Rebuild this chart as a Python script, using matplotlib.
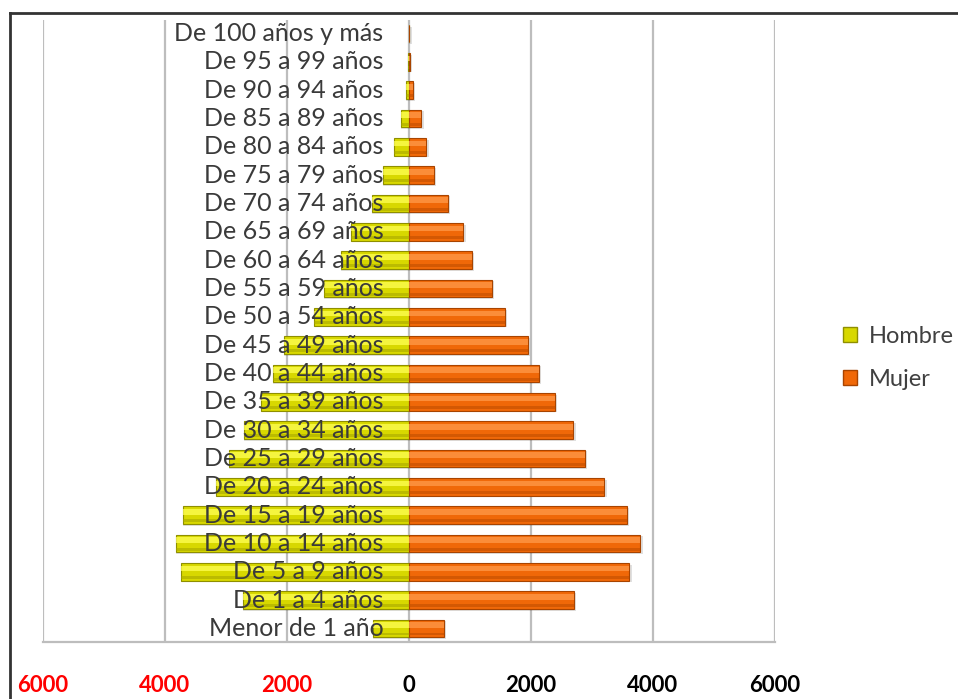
import matplotlib
matplotlib.use("Agg")
import matplotlib.pyplot as plt
from matplotlib.patches import Patch
from matplotlib.lines import Line2D
import numpy as np

plt.rcParams['font.family'] = ['Lato', 'DejaVu Sans']

# Age groups, from the oldest (top) to the youngest (bottom)
grupos = [
    "De 100 años y más", "De 95 a 99 años", "De 90 a 94 años", "De 85 a 89 años",
    "De 80 a 84 años", "De 75 a 79 años", "De 70 a 74 años", "De 65 a 69 años",
    "De 60 a 64 años", "De 55 a 59 años", "De 50 a 54 años", "De 45 a 49 años",
    "De 40 a 44 años", "De 35 a 39 años", "De 30 a 34 años", "De 25 a 29 años",
    "De 20 a 24 años", "De 15 a 19 años", "De 10 a 14 años", "De 5 a 9 años",
    "De 1 a 4 años", "Menor de 1 año",
]
hombre = [5, 10, 50, 130, 250, 430, 610, 950, 1110, 1390, 1560, 2050,
          2230, 2430, 2700, 2950, 3160, 3700, 3820, 3740, 2720, 590]
mujer = [5, 10, 60, 200, 280, 410, 640, 890, 1030, 1360, 1570, 1950,
         2130, 2390, 2690, 2880, 3200, 3570, 3790, 3610, 2700, 570]

ticks = [-6000, -4000, -2000, 0, 2000, 4000, 6000]
tick_labels = ["6000", "4000", "2000", "0", "2000", "4000", "6000"]

fig = plt.figure(figsize=(9.58, 6.99), dpi=100)
ax = fig.add_axes([43 / 958, 57 / 699, (775 - 43) / 958, (642 - 20) / 699])

n = len(grupos)
y = np.arange(n)[::-1]
h = 0.62
hom = -np.array(hombre, dtype=float)
muj = np.array(mujer, dtype=float)

# soft shadow under the bars
ax.barh(y - 0.06, hom, height=h, left=0, color="#000000", alpha=0.12, zorder=2, linewidth=0)
ax.barh(y - 0.06, muj + 40, height=h, left=0, color="#000000", alpha=0.12, zorder=2, linewidth=0)

# main bars
ax.barh(y, hom, height=h, color="#D8D800", edgecolor="#8F8F00", linewidth=0.8, zorder=3)
ax.barh(y, muj, height=h, color="#F06808", edgecolor="#A84400", linewidth=0.8, zorder=3)

# glossy highlight band across the top of each bar, darker band at the base
ax.barh(y + 0.12, hom, height=0.2, color="#FFFF55", alpha=0.75, linewidth=0, zorder=4)
ax.barh(y + 0.12, muj, height=0.2, color="#FF9A4A", alpha=0.75, linewidth=0, zorder=4)
ax.barh(y - 0.2, hom, height=0.1, color="#A8A800", alpha=0.6, linewidth=0, zorder=4)
ax.barh(y - 0.2, muj, height=0.1, color="#C04E00", alpha=0.6, linewidth=0, zorder=4)

ax.set_xlim(-6000, 6000)
ax.set_ylim(-0.48, n - 0.52)

ax.set_xticks(ticks)
ax.set_xticklabels(tick_labels, fontsize=16, fontweight="bold")
for lab, t in zip(ax.get_xticklabels(), ticks):
    lab.set_color("#FF0000" if t < 0 else "#000000")
ax.tick_params(axis="x", length=0, pad=24)
ax.set_yticks([])

ax.grid(axis="x", color="#BDBDBD", linewidth=1.6, zorder=1)
ax.set_axisbelow(True)
for s in ["top", "right", "left"]:
    ax.spines[s].set_visible(False)
ax.spines["bottom"].set_color("#BDBDBD")
ax.spines["bottom"].set_linewidth(1.6)

# category labels written over the bars
for yi, g in zip(y, grupos):
    ax.text(-420, yi, g, ha="right", va="center", fontsize=18,
            color="#3A3A3A", zorder=6)

# legend
handles = [Patch(facecolor="#D8D800", edgecolor="#8F8F00", label="Hombre"),
           Patch(facecolor="#F06808", edgecolor="#A84400", label="Mujer")]
fig.legend(handles=handles, loc="center left", bbox_to_anchor=(822 / 958, 1 - 358 / 699),
           frameon=False, fontsize=17, handlelength=0.6, handleheight=0.6,
           handletextpad=0.5, labelspacing=0.95, labelcolor="#404040")

# outer frame lines
fig.add_artist(Line2D([10 / 958, 1], [1 - 13 / 699, 1 - 13 / 699], color="#333333", lw=2,
                      transform=fig.transFigure))
fig.add_artist(Line2D([10 / 958, 10 / 958], [0, 1 - 13 / 699], color="#333333", lw=2,
                      transform=fig.transFigure))

fig.savefig("out.png", dpi=100)
